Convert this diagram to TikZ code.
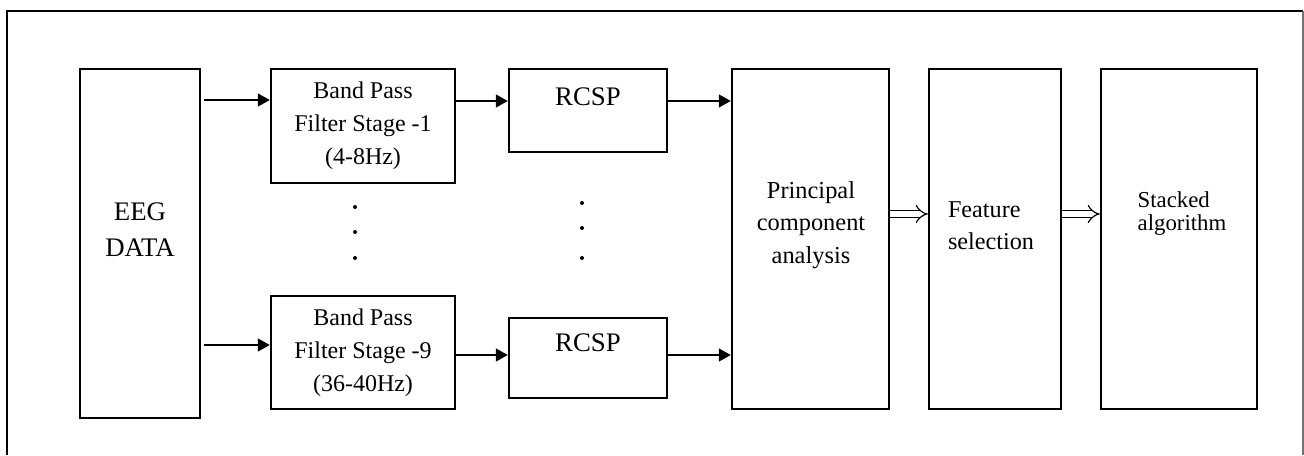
\documentclass[tikz,border=0pt]{standalone}
\usepackage{fontspec}
\setmainfont{Liberation Serif}
\usetikzlibrary{arrows.meta,positioning}

\begin{document}
\begin{tikzpicture}[x=0.5pt,y=-0.5pt]
    \tikzstyle{block}=[rectangle, draw=black, line width=1.25pt, inner sep=0pt]
    \tikzstyle{txt}=[align=center, inner sep=0pt]
    \tikzstyle{connect}=[line width=0.8pt, -{Triangle[length=6pt,width=6.5pt]}]
    \tikzstyle{hollow}=[double, double distance=2.6pt, line width=0.6pt, -{Implies[length=4.5pt,width=10pt]}]
    \tikzstyle{dot}=[circle, fill=black, inner sep=0pt, minimum size=2pt]
    \useasboundingbox (0,0) rectangle (1304,455);
    % outer frame
    \draw[line width=1pt] (7,455) -- (7,11) -- (1303,11);
    \draw[line width=0.6pt, black!55] (1303,11) -- (1303,455);
    % blocks
    \node[block, minimum width=60pt, minimum height=174.5pt] (eeg) at (140,243.5) {};
    \node[block, minimum width=92pt, minimum height=57pt] (bpfa) at (363,126) {};
    \node[block, minimum width=92pt, minimum height=56.5pt] (bpfb) at (363,352.5) {};
    \node[block, minimum width=79pt, minimum height=41.5pt] (rcspa) at (588,110.5) {};
    \node[block, minimum width=79pt, minimum height=40pt] (rcspb) at (588,358) {};
    \node[block, minimum width=78.5pt, minimum height=170pt] (pca) at (810.5,239) {};
    \node[block, minimum width=66pt, minimum height=170pt] (feat) at (995,239) {};
    \node[block, minimum width=78pt, minimum height=170pt] (stack) at (1179,239) {};
    % texts
    \node[txt, font=\fontsize{13.4}{18}\selectfont] (eegtext) at (140,230) {EEG\\DATA};
    \node[txt, font=\fontsize{12}{16.5}\selectfont] (bpfatext) at (363,126) {Band Pass\\Filter Stage -1\\(4-8Hz)};
    \node[txt, font=\fontsize{12}{16.5}\selectfont] (bpfbtext) at (363,353) {Band Pass\\Filter Stage -9\\(36-40Hz)};
    \node[txt, font=\fontsize{13.4}{16}\selectfont] (rcspatext) at (588,97) {RCSP};
    \node[txt, font=\fontsize{13.4}{16}\selectfont] (rcspbtext) at (588,343) {RCSP};
    \node[txt, font=\fontsize{12.2}{16.25}\selectfont] (pcatext) at (811,225) {Principal\\component\\analysis};
    \node[txt, align=left, font=\fontsize{12.1}{16}\selectfont] (feattext) at (991,226) {Feature\\selection};
    \node[txt, align=left, font=\fontsize{11.4}{11.8}\selectfont] (stacktext) at (1182,213.5) {Stacked\\algorithm};
    % dots
    \node[dot] (da1) at (355,207) {};
    \node[dot] (da2) at (355,232) {};
    \node[dot] (da3) at (355,258) {};
    \node[dot] (db1) at (582,203) {};
    \node[dot] (db2) at (582,228) {};
    \node[dot] (db3) at (582,258) {};
    % arrows
    \coordinate (ya) at (0,100);
    \coordinate (yb) at (0,345);
    \coordinate (yc) at (0,101);
    \coordinate (yd) at (0,355);
    \coordinate (ye) at (0,214);
    \draw[connect, shorten <=1.5pt] (eeg.east |- ya) -- (bpfa.west |- ya);
    \draw[connect, shorten <=1.5pt] (eeg.east |- yb) -- (bpfb.west |- yb);
    \draw[connect] (bpfa.east |- yc) -- (rcspa.west |- yc);
    \draw[connect] (bpfb.east |- yd) -- (rcspb.west |- yd);
    \draw[connect] (rcspa.east |- yc) -- (pca.west |- yc);
    \draw[connect] (rcspb.east |- yd) -- (pca.west |- yd);
    \draw[hollow] (pca.east |- ye) -- (feat.west |- ye);
    \draw[hollow] (feat.east |- ye) -- (stack.west |- ye);
\end{tikzpicture}
\end{document}
